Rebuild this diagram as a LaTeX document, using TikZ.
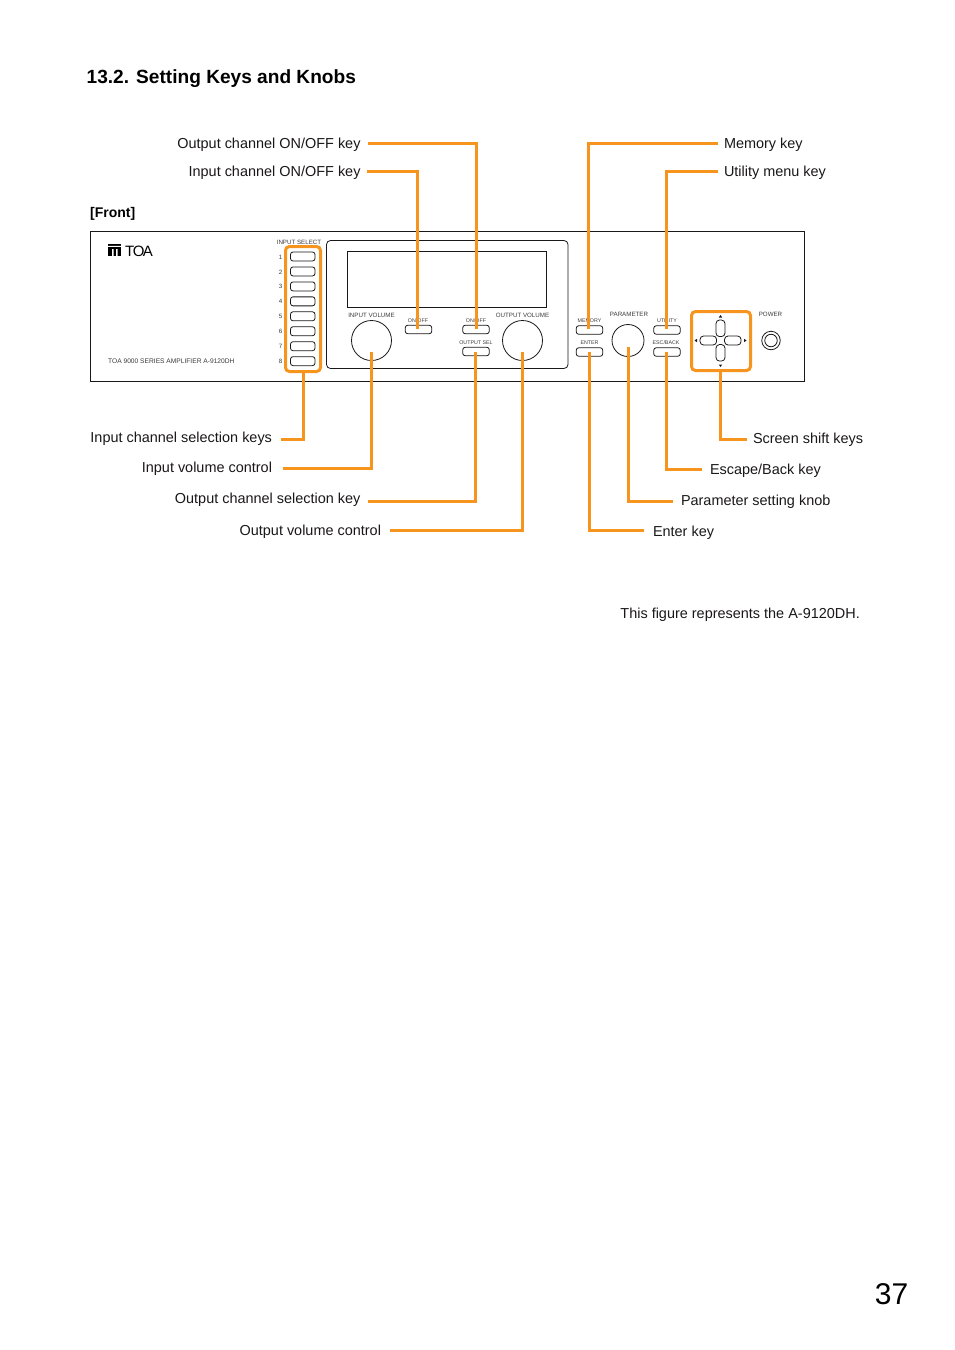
\documentclass[tikz,border=0pt]{standalone}
\usepackage{fontspec}
\setmainfont{Liberation Sans}
\definecolor{keyor}{HTML}{F7941D}
\definecolor{ink}{HTML}{1A1718}
\newcommand{\bodyfs}{\fontsize{14.45}{16}\selectfont}
\newcommand{\tinyfs}{\fontsize{6.2}{7}\selectfont}
\tikzset{
 x=1pt,y=-1pt,
 lab/.style={font=\bodyfs,text=ink,inner ysep=0pt,text height=11pt,text depth=2pt},
 lableft/.style={lab,anchor=east},
 labright/.style={lab,anchor=west},
 small/.style={font=\tinyfs,text=ink!85,inner sep=0pt},
 keybox/.style={draw=ink,line width=0.8pt,rounded corners=2.5pt,inner sep=0pt,outer sep=0pt,minimum width=26.5pt,minimum height=8.5pt},
 inkey/.style={keybox,minimum width=24.5pt,minimum height=9pt},
 crosskey/.style={keybox,rounded corners=3.5pt},
 knobc/.style={circle,draw=ink,line width=0.8pt,inner sep=0pt,outer sep=0pt},
 frameb/.style={draw=ink,line width=1pt,inner sep=0pt,outer sep=0pt},
 orangeline/.style={draw=keyor,line width=3pt},
 orangebox/.style={draw=keyor,line width=3pt,rounded corners=4pt,inner sep=0pt,outer sep=0pt},
}
\begin{document}
\begin{tikzpicture}
\useasboundingbox (0,0) rectangle (954,1350);
\node[font=\fontsize{19.1}{22}\selectfont\bfseries,text=black,anchor=base west,inner sep=0pt] (title) at (86.5,83) {13.2. Setting Keys and Knobs};
\node[font=\fontsize{14}{16}\selectfont\bfseries,text=black,anchor=base west,inner sep=0pt] (front) at (90,217) {[Front]};
\node[font=\fontsize{14.45}{16}\selectfont,text=ink,anchor=base east,inner sep=0pt] (note) at (860,618) {This figure represents the A-9120DH.};
\node[font=\fontsize{30}{34}\selectfont,text=black,anchor=base east,inner sep=0pt] (page) at (908.5,1304) {37};

% chassis
\node[frameb,anchor=north west,minimum width=714pt,minimum height=149.5pt] (chassis) at (90.5,231.5) {};
\node[frameb,line width=0.8pt,rounded corners=4pt,anchor=north west,minimum width=241.5pt,minimum height=128pt] (panel) at (326.5,240.5) {};
\node[frameb,line width=0.8pt,anchor=north west,minimum width=199pt,minimum height=56pt] (display) at (347.5,251.5) {};

% logo
\node[fill=black,inner sep=0pt,outer sep=0pt,minimum width=13pt,minimum height=12pt,anchor=north west] (mark) at (108,244) {};
\fill[white] (108,245.8) rectangle (121,246.8) (112,249) rectangle (113.5,256) (116,249) rectangle (117.5,256);
\node[font=\fontsize{15}{16}\selectfont,text=black,anchor=base west,inner sep=0pt,xscale=1] (toa) at (125,256) {T\kern-1.4pt O\kern-1.8pt A};
\node[small,font=\fontsize{6.65}{7}\selectfont,anchor=base west] (series) at (108,363) {TOA 9000 SERIES AMPLIFIER A-9120DH};

% input select keys
\foreach \n in {1,...,8}{
  \node[inkey] (in\n) at (302.75,{256.5+(\n-1)*14.95}) {};
  \node[small,anchor=center] (num\n) at (280.5,{256.9+(\n-1)*14.95}) {\n};
}

% knobs
\node[knobc,minimum size=40pt] (ivol) at (371.5,340.5) {};
\node[knobc,minimum size=40pt] (ovol) at (522.5,340.5) {};
\node[knobc,minimum size=32pt] (parm) at (628,340.5) {};
\node[knobc,minimum size=18.5pt] (powa) at (771,340.5) {};
\node[knobc,minimum size=12.5pt] (powb) at (771,340.5) {};

\node[small,anchor=base] (tivol) at (371.5,317) {INPUT VOLUME};
\node[small,anchor=base] (tovol) at (522.5,317) {OUTPUT VOLUME};
\node[small,anchor=base] (tparm) at (629,316) {PARAMETER};
\node[small,anchor=base] (tpow) at (770.5,316) {POWER};

% centre and right keys
\node[small,font=\fontsize{5.3}{6}\selectfont,anchor=base] (ton1) at (418,322) {ON/OFF};
\node[keybox] (on1) at (418.5,329.5) {};
\node[small,font=\fontsize{5.3}{6}\selectfont,anchor=base] (ton2) at (476,322) {ON/OFF};
\node[keybox] (on2) at (476,329.5) {};
\node[small,font=\fontsize{5.3}{6}\selectfont,anchor=base] (tosel) at (476,344) {OUTPUT SEL};
\node[keybox] (osel) at (476,351.5) {};
\node[small,font=\fontsize{5.3}{6}\selectfont,anchor=base] (tmem) at (589.5,322) {MEMORY};
\node[keybox] (mem) at (589.5,330) {};
\node[small,font=\fontsize{5.3}{6}\selectfont,anchor=base] (tent) at (589.5,344) {ENTER};
\node[keybox] (ent) at (589.5,352) {};
\node[small,font=\fontsize{5.3}{6}\selectfont,anchor=base] (tuti) at (667,322) {UTILITY};
\node[keybox] (uti) at (667,330) {};
\node[small,font=\fontsize{5.3}{6}\selectfont,anchor=base] (tesc) at (666,344) {ESC/BACK};
\node[keybox] (esc) at (667,352) {};

% cross keys
\node[crosskey,minimum width=9pt,minimum height=16.5pt] (up) at (720.5,328.3) {};
\node[crosskey,minimum width=9pt,minimum height=16.5pt] (down) at (720.5,352.8) {};
\node[crosskey,minimum width=16.5pt,minimum height=9pt] (left) at (708.3,340.5) {};
\node[crosskey,minimum width=16.5pt,minimum height=9pt] (right) at (732.8,340.5) {};
\fill[ink] (720.5,315) -- (722.2,317.5) -- (718.8,317.5) -- cycle;
\fill[ink] (720.5,367) -- (722.2,364.5) -- (718.8,364.5) -- cycle;
\fill[ink] (694.5,340.5) -- (697,338.8) -- (697,342.2) -- cycle;
\fill[ink] (746.5,340.5) -- (744,338.8) -- (744,342.2) -- cycle;

% orange frames
\node[orangebox,anchor=north west,minimum width=35pt,minimum height=125pt] (selbox) at (285.5,246.5) {};
\node[orangebox,anchor=north west,minimum width=59pt,minimum height=59pt] (crossbox) at (691.5,311.5) {};
\node[small,anchor=base] (inputsel) at (299,244.5) {INPUT SELECT};

% labels
\node[lableft,inner xsep=7.5pt,outer sep=0pt] (L1) at (368,143.5) {Output channel ON/OFF key};
\node[lableft,inner xsep=6.5pt,outer sep=0pt] (L2) at (367,171.5) {Input channel ON/OFF key};
\node[labright,inner xsep=6pt,outer sep=0pt] (R1) at (718,143.5) {Memory key};
\node[labright,inner xsep=6pt,outer sep=0pt] (R2) at (718,171.5) {Utility menu key};
\node[lableft,inner xsep=9pt,outer sep=0pt,text height=7pt] (L3) at (281,439.5) {Input channel selection keys};
\node[lableft,inner xsep=11pt,outer sep=0pt,text height=10pt] (L4) at (283,468.5) {Input volume control};
\node[lableft,inner xsep=7.5pt,outer sep=0pt,text height=6pt] (L5) at (368,501.5) {Output channel selection key};
\node[lableft,inner xsep=9pt,outer sep=0pt] (L6) at (390,530.5) {Output volume control};
\node[labright,inner xsep=6pt,outer sep=0pt,text height=10pt] (R3) at (747,439.5) {Screen shift keys};
\node[labright,inner xsep=8pt,outer sep=0pt,text height=12pt] (R4) at (702,469.5) {Escape/Back key};
\node[labright,inner xsep=8pt,outer sep=0pt,text height=10pt] (R5) at (673,501.5) {Parameter setting knob};
\node[labright,inner xsep=9pt,outer sep=0pt,text height=13pt] (R6) at (644,530.5) {Enter key};

% connector ends
\coordinate (e1) at (476.5,329);
\coordinate (e2) at (417.5,329);
\coordinate (e3) at (588.5,329);
\coordinate (e4) at (666.5,329);
\coordinate (e5) at (303.5,371);
\coordinate (e6) at (371.5,352);
\coordinate (e7) at (475.5,352);
\coordinate (e8) at (522.5,352);
\coordinate (e9) at (720.5,370);
\coordinate (e10) at (666.5,352);
\coordinate (e11) at (628.5,347);
\coordinate (e12) at (589.5,352);

\draw[orangeline] (L1.east) -| (e1);
\draw[orangeline] (L2.east) -| (e2);
\draw[orangeline] (R1.west) -| (e3);
\draw[orangeline] (R2.west) -| (e4);
\draw[orangeline] (L3.east) -| (e5);
\draw[orangeline] (L4.east) -| (e6);
\draw[orangeline] (L5.east) -| (e7);
\draw[orangeline] (L6.east) -| (e8);
\draw[orangeline] (R3.west) -| (e9);
\draw[orangeline] (R4.west) -| (e10);
\draw[orangeline] (R5.west) -| (e11);
\draw[orangeline] (R6.west) -| (e12);
\end{tikzpicture}
\end{document}
